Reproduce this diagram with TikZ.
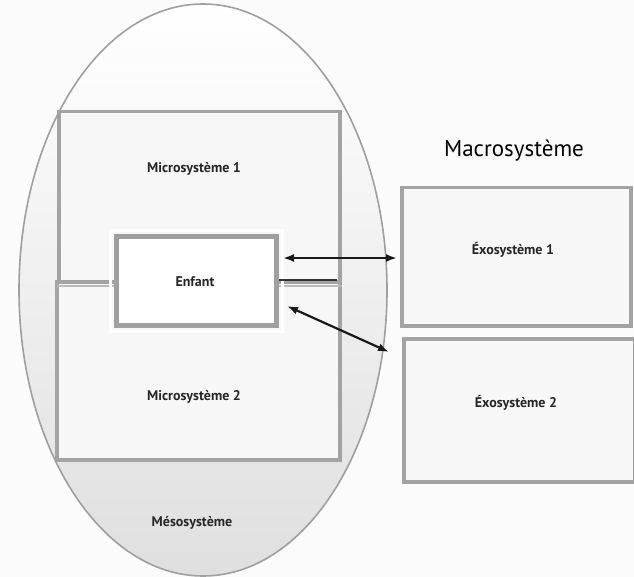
\documentclass[tikz,border=0pt]{standalone}
\usepackage{fontspec}
\setmainfont{PT Sans}
\usetikzlibrary{arrows.meta,shadows}
\tikzset{
  sysbox/.style={draw=gray!72, line width=3.5pt, fill=gray!6},
  kidbox/.style={draw=gray!75, line width=5pt, fill=white},
  lbl/.style={font=\fontsize{14}{16}\selectfont\bfseries, text=black!85},
  link/.style={line width=2.2pt, black!90, {Latex[length=11pt,width=8pt]}-{Latex[length=11pt,width=8pt]}},
}
\begin{document}
\begin{tikzpicture}[x=1pt,y=-1pt]
\useasboundingbox (0,0) rectangle (634,577);
\fill[gray!3] (0,0) rectangle (634,577);
% ellipse (mesosysteme)
\shade[top color=white, bottom color=gray!25, draw=gray!75, line width=1.6pt]
  (203,290) ellipse [x radius=184, y radius=286];
% microsystemes
\node[sysbox, minimum width=281, minimum height=172, anchor=north west] (m1) at (57,110) {};
\node[sysbox, minimum width=283, minimum height=178, anchor=north west] (m2) at (55,280) {};
\draw[gray!55, line width=2pt] (m1.south west) -- (m1.south east);
% enfant
\node[draw=white, line width=3pt, fill=none, minimum width=172, minimum height=100, anchor=center] at (196,281) {};
\node[kidbox, minimum width=160, minimum height=88, drop shadow={opacity=0.35, shadow xshift=2pt, shadow yshift=-2pt}] (enf) at (196,281) {};
\node[lbl] at (195,282) {Enfant};
\draw[black!80, line width=1.3pt] (enf.east |- 0,280) -- (337,280);
% exosystemes
\node[sysbox, minimum width=229, minimum height=138, anchor=north west] (e1) at (400,186) {};
\node[sysbox, minimum width=231, minimum height=143, anchor=north west] (e2) at (402,337) {};
% labels
\node[lbl] at (194,169) {Microsystème 1};
\node[lbl] at (194,397) {Microsystème 2};
\node[lbl] at (192,523) {Mésosystème};
\node[lbl] at (513,250) {Éxosystème 1};
\node[lbl] at (516,403) {Éxosystème 2};
\node[font=\fontsize{23}{26}\selectfont, text=black] (macro) at (514,151) {Macrosystème};
% arrows
\coordinate (a1) at (283,258);
\coordinate (b1) at (397,258);
\coordinate (a2) at (287,306);
\coordinate (b2) at (389,352);
\draw[link] (a1) -- (b1);
\draw[link] (a2) -- (b2);
\end{tikzpicture}
\end{document}
